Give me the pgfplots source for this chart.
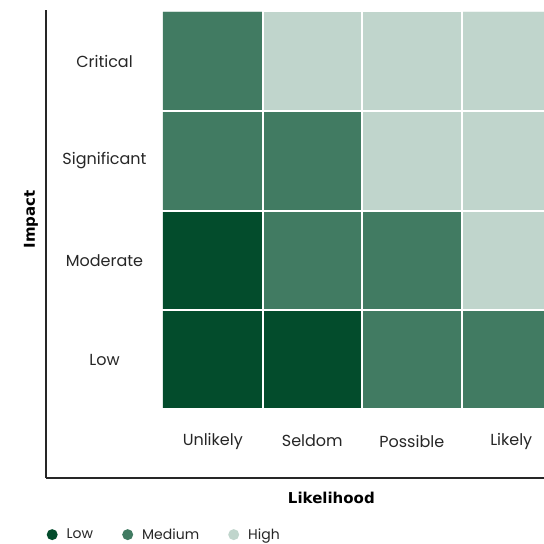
\documentclass[border=0pt]{standalone}
\usepackage{pgfplots}
\pgfplotsset{compat=1.18}
\usepackage{fontspec}
\setmainfont{Poppins}
\newfontfamily\labfont{DejaVu Sans}
\definecolor{darkg}{RGB}{3,76,44}
\definecolor{medg}{RGB}{65,123,98}
\definecolor{lightg}{RGB}{192,213,204}
\begin{document}
\begin{tikzpicture}
\useasboundingbox (0,0) rectangle (544pt,544pt);
\begin{axis}[
  at={(46pt,66pt)}, anchor=south west,
  scale only axis, width=498pt, height=468pt,
  xmin=-1.676, xmax=3.329, ymin=-1.19, ymax=3.52,
  axis line style={draw=none},
  axis on top,
  tick style={draw=none},
  xtick={0,1,2,3}, xticklabels={Unlikely,Seldom,Possible,Likely},
  ytick={0,1,2,3}, yticklabels={Low,Moderate,Significant,Critical},
  xticklabel style={anchor=center, yshift=37pt},
  yticklabel style={anchor=center, xshift=58.5pt},
  extra x ticks={0.5,1.5,2.5}, extra x tick labels={},
  extra y ticks={-0.5,0.5,1.5,2.5}, extra y tick labels={},
  extra tick style={grid=major, major grid style={white, line width=2pt}},
  ticklabel style={font=\fontsize{16}{18}\selectfont, text=black!85},
  xlabel={Likelihood}, ylabel={Impact},
  label style={font=\labfont\bfseries\fontsize{15}{17}\selectfont},
  xlabel style={at={(axis description cs:0.573,-0.0427)}, anchor=center},
  ylabel style={at={(axis description cs:-0.0301,0.553)}, anchor=center},
  colormap={risk}{rgb255=(3,76,44) rgb255=(65,123,98) rgb255=(192,213,204)},
  point meta min=0, point meta max=2,
  legend columns=3,
  legend style={at={(axis description cs:0.001,-0.121)}, anchor=west, draw=none, fill=none,
    inner sep=0pt, font=\fontsize{14}{16}\selectfont, text=black!85,
    /tikz/every even column/.append style={column sep=27pt}},
  legend cell align=left,
]
\addplot[matrix plot*, mesh/cols=4, point meta=explicit, forget plot] table[meta=level] {
x y level
0 0 0
1 0 0
2 0 1
3 0 1
0 1 0
1 1 1
2 1 1
3 1 2
0 2 1
1 2 1
2 2 2
3 2 2
0 3 1
1 3 2
2 3 2
3 3 2
};
\addlegendimage{legend image code/.code={\fill[darkg, draw=none] (5.5pt,0pt) circle (5.5pt); \path[draw=none, fill=none] (0pt,0pt) -- (18pt,0pt);}}
\addlegendentry{Low}
\addlegendimage{legend image code/.code={\fill[medg, draw=none] (5.5pt,0pt) circle (5.5pt); \path[draw=none, fill=none] (0pt,0pt) -- (18pt,0pt);}}
\addlegendentry{Medium}
\addlegendimage{legend image code/.code={\fill[lightg, draw=none] (5.5pt,0pt) circle (5.5pt); \path[draw=none, fill=none] (0pt,0pt) -- (18pt,0pt);}}
\addlegendentry{High}
\end{axis}
\begin{axis}[
  at={(46pt,66pt)}, anchor=south west,
  scale only axis, width=498pt, height=468pt,
  xmin=-1.676, xmax=3.329, ymin=-1.19, ymax=3.52,
  axis lines*=left,
  axis line style={line width=1.4pt, black!85},
  ticks=none,
]
\end{axis}
\end{tikzpicture}
\end{document}
